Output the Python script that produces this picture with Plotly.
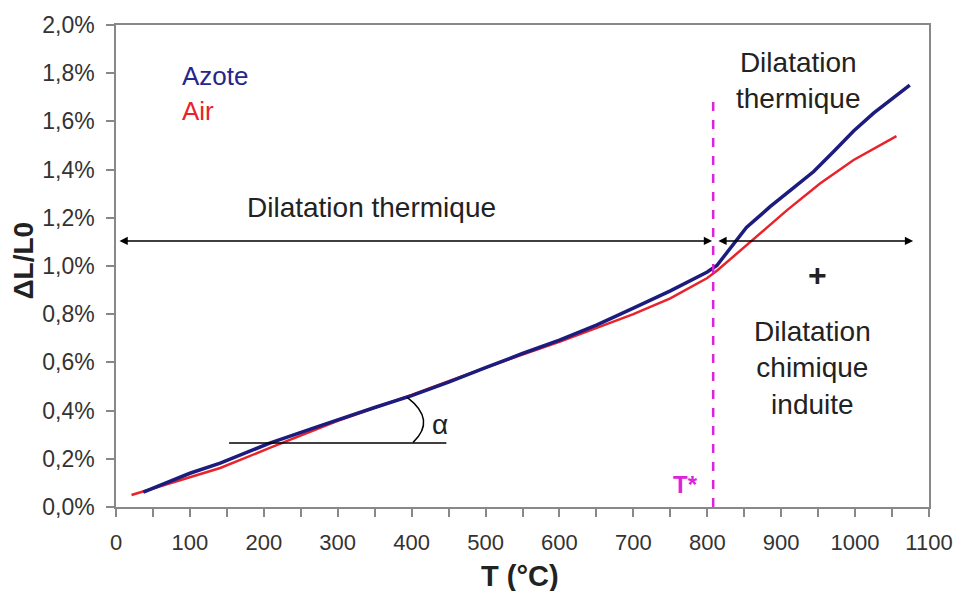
import plotly.graph_objects as go

# ---- data ----
T_azote = [37, 100, 141, 208, 276, 300, 350, 400, 450, 500, 550, 600, 650, 700, 750,
           800, 813, 853, 885, 917, 944, 971, 998, 1025, 1074]
dl_azote = [0.062, 0.140, 0.182, 0.265, 0.337, 0.362, 0.413, 0.462, 0.518, 0.578, 0.637,
            0.692, 0.755, 0.825, 0.897, 0.975, 1.002, 1.160, 1.246, 1.325, 1.392,
            1.475, 1.560, 1.634, 1.751]

T_air = [21, 100, 141, 208, 276, 300, 350, 400, 450, 500, 550, 600, 650, 700, 750,
         800, 813, 862, 908, 953, 998, 1056]
dl_air = [0.050, 0.125, 0.162, 0.245, 0.330, 0.358, 0.412, 0.465, 0.522, 0.578, 0.633,
          0.685, 0.742, 0.800, 0.866, 0.950, 0.980, 1.108, 1.232, 1.343, 1.440, 1.539]

x_ticks = list(range(0, 1101, 100))
y_ticks = [0.0, 0.2, 0.4, 0.6, 0.8, 1.0, 1.2, 1.4, 1.6, 1.8, 2.0]
y_ticklabels = [f"{v:.1f}".replace(".", ",") + "%" for v in y_ticks]

T_star = 808
NAVY = "#1c1c7e"
RED = "#e8232b"
MAGENTA = "#dd22dd"
TXT = "#222222"
FONT = "Liberation Sans, Arial, sans-serif"

fig = go.Figure()
fig.add_trace(go.Scatter(x=T_air, y=dl_air, mode="lines", name="Air",
                         line=dict(color=RED, width=2.5)))
fig.add_trace(go.Scatter(x=T_azote, y=dl_azote, mode="lines", name="Azote",
                         line=dict(color=NAVY, width=3.5)))

# T* dashed line
fig.add_shape(type="line", x0=T_star, x1=T_star, y0=0, y1=1.71, xref="x", yref="y",
              line=dict(color=MAGENTA, width=2.5, dash="dash"))
# horizontal reference line for alpha
fig.add_shape(type="line", x0=153, x1=447, y0=0.266, y1=0.266, xref="x", yref="y",
              line=dict(color="black", width=1.5))
# alpha arc
fig.add_shape(type="path", path="M 394,0.455 Q 434,0.361 402,0.268", xref="x", yref="y",
              line=dict(color="black", width=1.5))

# double arrows
for x0, x1 in [(2.7, 806.5), (813, 1078.5)]:
    fig.add_annotation(x=x1, y=1.104, ax=x0, ay=1.104, xref="x", yref="y",
                       axref="x", ayref="y", text="", showarrow=True,
                       arrowhead=2, startarrowhead=2, arrowside="end+start",
                       arrowsize=1.1, startarrowsize=1.1, arrowwidth=1.5,
                       arrowcolor="black", standoff=0, startstandoff=0)

def txt(x, y, s, size=28, color=TXT, bold=False, xanchor="center"):
    fig.add_annotation(x=x, y=y, xref="x", yref="y", text=s, showarrow=False,
                       xanchor=xanchor, yanchor="middle",
                       font=dict(family=FONT, size=size, color=color,
                                 weight="bold" if bold else "normal"))

txt(86.6, 1.788, "Azote", size=26, color="#26268c", xanchor="left")
txt(86.6, 1.643, "Air", size=26, color=RED, xanchor="left")
txt(346, 1.241, "Dilatation thermique", size=28)
txt(923, 1.768, "Dilatation<br>thermique", size=28)
txt(948.6, 0.963, "+", size=32, bold=True)
txt(943, 0.577, "Dilatation<br>chimique<br>induite", size=28)
txt(770, 0.095, "T*", size=24, color=MAGENTA, bold=True)
txt(438, 0.344, "α", size=28)

# axis titles
fig.add_annotation(x=0.497, y=-0.143, xref="paper", yref="paper", text="T (°C)",
                   showarrow=False, xanchor="center", yanchor="middle",
                   font=dict(family=FONT, size=29, color=TXT, weight="bold"))
fig.add_annotation(x=-0.114, y=0.512, xref="paper", yref="paper", text="ΔL/L0",
                   showarrow=False, xanchor="center", yanchor="middle", textangle=-90,
                   font=dict(family=FONT, size=28, color=TXT, weight="bold"))

fig.update_layout(
    width=957, height=591,
    margin=dict(l=116, r=28, t=25, b=84),
    paper_bgcolor="white", plot_bgcolor="white",
    showlegend=False,
    font=dict(family=FONT, size=22, color="#333333"),
    xaxis=dict(range=[0, 1100], tickvals=x_ticks, tickformat="d", automargin=False,
               ticks="outside", ticklen=8, tickcolor="#888888", tickwidth=1.5,
               ticklabelstandoff=7,
               showline=True, linecolor="#888888", linewidth=1.5, mirror=True,
               showgrid=False, zeroline=False,
               minor=dict(dtick=50, tick0=0, ticks="outside", ticklen=8,
                          tickcolor="#888888", tickwidth=1.5, showgrid=False),
               tickfont=dict(size=22, color="#333333")),
    yaxis=dict(range=[0, 2.0], tickvals=y_ticks, ticktext=y_ticklabels, automargin=False,
               ticks="outside", ticklen=8, tickcolor="#888888", tickwidth=1.5,
               ticklabelstandoff=7,
               showline=True, linecolor="#888888", linewidth=1.5, mirror=True,
               showgrid=False, zeroline=False,
               tickfont=dict(size=23, color="#333333")),
)

fig.write_html("out.html")
